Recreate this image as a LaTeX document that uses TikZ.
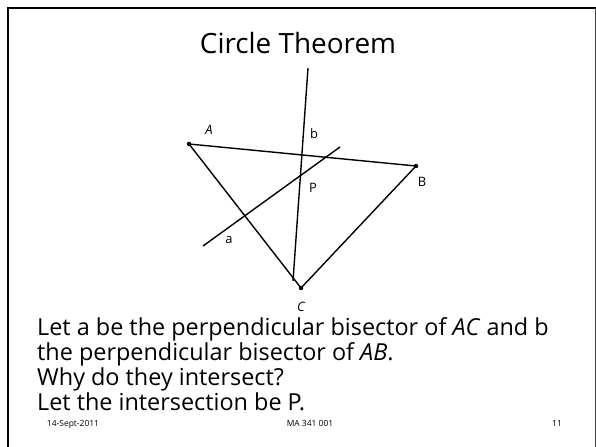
\documentclass[tikz,border=0pt]{standalone}
\usepackage{fontspec}
\setmainfont{Open Sans}
\begin{document}
\begin{tikzpicture}[x=1bp,y=-1bp,
  geo/.style={line width=1.4bp},
  ptdot/.style={circle,fill,inner sep=0pt,minimum size=4.5bp},
  lbl/.style={inner sep=0pt,font=\fontsize{13}{15}\selectfont},
  body/.style={inner sep=0pt,anchor=base west,font=\fontsize{23.5}{28}\selectfont},
  foot/.style={inner sep=0pt,anchor=base,font=\fontsize{8.5}{10}\selectfont}]
\useasboundingbox (0,0) rectangle (596,447);
\fill[white] (0,0) rectangle (596,447);
% frame
\draw[line width=2.2bp] (8,447) -- (8,8) -- (596,8);
\draw[line width=0.8bp,black!75] (595,8) -- (595,447);
% title
\node[inner sep=0pt,anchor=base,font=\fontsize{28}{34}\selectfont] (title) at (298,54) {Circle Theorem};
% points
\node[ptdot] (A) at (189,144) {};
\node[ptdot] (B) at (416,166) {};
\node[ptdot] (C) at (301,288) {};
\coordinate (b1) at (308,68);
\coordinate (b2) at (293,281);
\coordinate (a1) at (203,246);
\coordinate (a2) at (340,147);
\draw[geo] (A.center) -- (B.center) -- (C.center) -- cycle;
\draw[geo] (b1) -- (b2);
\draw[geo] (a1) -- (a2);
% labels
\node[lbl] (lA) at (209,130) {\itshape A};
\node[lbl] (lb) at (314,134) {b};
\node[lbl] (lP) at (313,188) {P};
\node[lbl] (lB) at (422,182) {B};
\node[lbl] (la) at (229,240) {a};
\node[lbl] (lC) at (301,307) {\itshape C};
% text
\node[body] (t1) at (37,335) {Let a be the perpendicular bisector of \textit{AC} and b};
\node[body] (t2) at (37,360) {the perpendicular bisector of \textit{AB}.};
\node[body] (t3) at (37,385) {Why do they intersect?};
\node[body] (t4) at (37,410) {Let the intersection be P.};
% footer
\node[foot] (f1) at (73,426) {14-Sept-2011};
\node[foot] (f2) at (310,426) {MA 341 001};
\node[foot] (f3) at (557,426) {11};
\end{tikzpicture}
\end{document}
